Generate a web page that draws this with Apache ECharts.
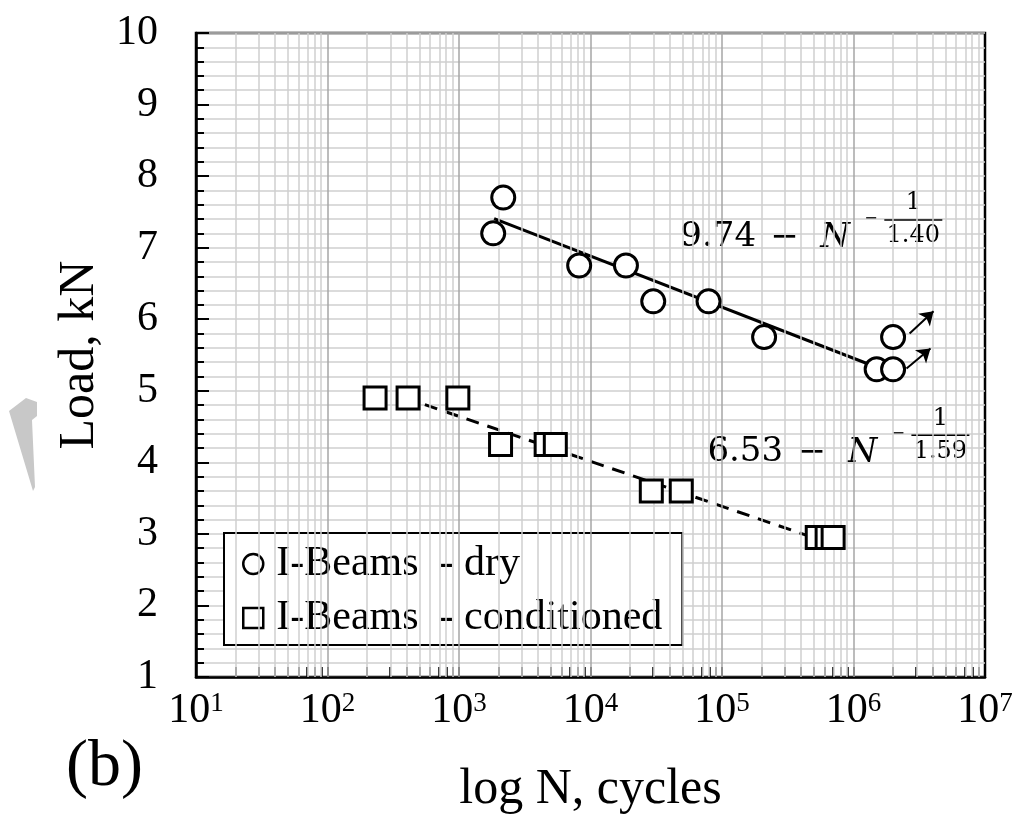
<!DOCTYPE html>
<html>
<head>
<meta charset="utf-8">
<script src="https://cdn.jsdelivr.net/npm/echarts@6/dist/echarts.min.js"></script>
<style>
  html, body { margin: 0; padding: 0; background: #ffffff; }
  #chart { width: 1022px; height: 823px; }
</style>
</head>
<body>
<div id="chart"></div>
<script>
// Fatigue tests of I-beams: load level vs. cycles to failure
const dryCycles = [1820, 2170, 8200, 18600, 30000, 79000, 209000, 1500000, 2000000, 2000000];
const dryLoad   = [7.2, 7.7, 6.75, 6.75, 6.25, 6.25, 5.75, 5.3, 5.3, 5.75];

const condCycles = [230, 410, 980, 2070, 4600, 5400, 29000, 49000, 530000, 630000, 700000];
const condLoad   = [4.9, 4.9, 4.9, 4.25, 4.25, 4.25, 3.6, 3.6, 2.95, 2.95, 2.95];

// Fit lines: load = intercept - log10(N) / divisor
const fitIntercept = [9.74, 6.53];
const fitDivisor   = [1.40, 1.59];
const fitDryRange  = [1850, 1450000];
const fitCondRange = [550, 650000];

// Run-outs (specimens that did not fail)
const runoutFromCycles = [2670000, 2530000];
const runoutFromLoad   = [5.80, 5.31];
const runoutToCycles   = [4060000, 3850000];
const runoutToLoad     = [6.11, 5.59];

const decadeExponents = [1, 2, 3, 4, 5, 6, 7];
const yTicks = [1, 2, 3, 4, 5, 6, 7, 8, 9, 10];

const seriesNames = ['I-Beams  - dry', 'I-Beams  - conditioned'];

const SERIF = '"Liberation Serif", "Times New Roman", serif';
const MATH = '"DejaVu Serif", serif';
const lg = Math.log10;

const dryPts  = dryCycles.map((n, i) => [lg(n), dryLoad[i]]);
const condPts = condCycles.map((n, i) => [lg(n), condLoad[i]]);
const fitLine = (range, k) => range.map(n => [lg(n), fitIntercept[k] - lg(n) / fitDivisor[k]]);

// log-decade grid positions (1..9 x 10^d)
const minorPos = [], decadePos = [];
decadeExponents.forEach(d => {
  decadePos.push(d);
  if (d < 7) for (let k = 2; k <= 9; k++) minorPos.push(d + lg(k));
});
const allTickPos = decadePos.concat(minorPos).sort((a, b) => a - b);

const chart = echarts.init(document.getElementById('chart'), null, { renderer: 'canvas' });

const option = {
  animation: false,
  backgroundColor: '#ffffff',
  grid: {
    left: 196, right: 37, top: 33, bottom: 146,
    show: true, borderColor: '#000', borderWidth: 2.5, backgroundColor: 'transparent'
  },
  xAxis: {
    type: 'value', min: 1, max: 7, interval: 1,
    name: 'log N, cycles', nameLocation: 'middle', nameGap: 88,
    nameTextStyle: { fontFamily: SERIF, fontSize: 50, color: '#000' },
    axisLine: { show: true, onZero: false, lineStyle: { color: '#000', width: 2.5 } },
    axisTick: { show: true, inside: true, length: 10, customValues: allTickPos,
                lineStyle: { color: '#000', width: 1.5 } },
    axisLabel: {
      margin: 13, color: '#000', fontFamily: SERIF,
      formatter: v => '{b|10}{s|' + v + '}',
      rich: {
        b: { fontFamily: SERIF, fontSize: 42, color: '#000' },
        s: { fontFamily: SERIF, fontSize: 27, color: '#000', verticalAlign: 'top', padding: [0, 0, 15, 0] }
      }
    },
    splitLine: { show: false }
  },
  yAxis: {
    type: 'value', min: 1, max: 10, interval: 1,
    name: 'Load, kN', nameLocation: 'middle', nameGap: 72, nameRotate: 90,
    nameTextStyle: { fontFamily: SERIF, fontSize: 50, color: '#000' },
    axisLine: { show: true, onZero: false, lineStyle: { color: '#000', width: 2.5 } },
    axisTick: { show: true, inside: true, length: 13, lineStyle: { color: '#000', width: 2 } },
    minorTick: { show: true, splitNumber: 5, length: 8, lineStyle: { color: '#000', width: 2 } },
    axisLabel: { margin: 38, color: '#000', fontFamily: SERIF, fontSize: 42,
                 customValues: yTicks },
    splitLine: { show: true, lineStyle: { color: '#cfcfcf', width: 1.5 } },
    minorSplitLine: { show: true, lineStyle: { color: '#cfcfcf', width: 1.5 } }
  },
  legend: {
    data: seriesNames,
    orient: 'vertical', left: 224, top: 533,
    backgroundColor: '#fff', borderColor: '#000', borderWidth: 2,
    padding: [10, 20, 6, 18], itemGap: 12,
    itemWidth: 20, itemHeight: 20,
    textStyle: { fontFamily: SERIF, fontSize: 42, color: '#000', padding: [0, 0, 0, 8] },
    itemStyle: { borderWidth: 2.5 }
  },
  series: [
    {
      // vertical grid lines of the logarithmic axis
      name: 'grid', type: 'line', data: [], z: 1, silent: true,
      markLine: {
        silent: true, symbol: ['none', 'none'], label: { show: false },
        animation: false,
        data: minorPos.map(x => ({ xAxis: x, lineStyle: { color: '#cfcfcf', width: 1.5, type: 'solid' } }))
          .concat(decadePos.slice(1, -1).map(x => ({ xAxis: x, lineStyle: { color: '#a6a6a6', width: 1.5, type: 'solid' } })))
      }
    },
    {
      name: 'fit dry', type: 'line', data: fitLine(fitDryRange, 0), z: 3,
      symbol: 'none', lineStyle: { color: '#000', width: 3 }, silent: true
    },
    {
      name: 'fit conditioned', type: 'line', data: fitLine(fitCondRange, 1), z: 3,
      symbol: 'none', lineStyle: { color: '#000', width: 3, type: [13, 9] }, silent: true
    },
    {
      name: 'run-outs', type: 'line', data: [], z: 4, silent: true,
      markLine: {
        silent: true, symbol: ['none', 'arrow'], symbolSize: 13, label: { show: false },
        lineStyle: { color: '#000', width: 2, type: 'solid' },
        data: runoutFromCycles.map((n, i) => [
          { coord: [lg(n), runoutFromLoad[i]] },
          { coord: [lg(runoutToCycles[i]), runoutToLoad[i]] }
        ])
      }
    },
    {
      name: seriesNames[0], type: 'scatter', data: dryPts, z: 6,
      symbol: 'circle', symbolSize: 23,
      itemStyle: { color: '#fff', borderColor: '#000', borderWidth: 3, opacity: 1 }
    },
    {
      name: seriesNames[1], type: 'scatter', data: condPts, z: 6,
      symbol: 'rect', symbolSize: 22,
      itemStyle: { color: '#fff', borderColor: '#000', borderWidth: 3, opacity: 1 }
    }
  ]
};

chart.setOption(option);

// Equation annotations, anchored in data space
function equation(anchor, lead, denom) {
  const p = chart.convertToPixel({ gridIndex: 0 }, anchor);
  const font = (size, italic) => ({
    fontFamily: MATH, fontSize: size, fill: '#000', fontStyle: italic ? 'italic' : 'normal'
  });
  const t = (x, y, text, size, align, italic) => ({
    type: 'text', x: x, y: y,
    style: Object.assign({ text: text, align: align, verticalAlign: 'middle' }, font(size, italic))
  });
  return {
    type: 'group', x: p[0], y: p[1], silent: true,
    children: [
      t(0, 0, lead, 34, 'left'),
      t(90, 1, '\u2212', 34, 'left'),
      t(140, 1, 'N', 34, 'left', true),
      t(184, -18, '\u2212', 16, 'left'),
      { type: 'line', shape: { x1: 204, y1: -17, x2: 262, y2: -17 }, style: { stroke: '#000', lineWidth: 1.5 } },
      t(233, -34, '1', 24, 'center'),
      t(233, -1, denom, 24, 'center')
    ]
  };
}

chart.setOption({
  graphic: [
    equation([4.683, 7.15], fitIntercept[0].toFixed(2), fitDivisor[0].toFixed(2)),
    equation([4.889, 4.14], fitIntercept[1].toFixed(2), fitDivisor[1].toFixed(2)),
    {
      type: 'text', left: 66, top: 735, silent: true,
      style: { text: '(b)', fontFamily: SERIF, fontSize: 66, fill: '#000' }
    },
    {
      // light grey mark at the left margin
      type: 'polygon', silent: true,
      shape: { points: [[9, 411], [26, 398], [37, 402], [37, 416], [32, 420], [35, 487], [33, 491]] },
      style: { fill: '#c8c8c8' }
    }
  ]
});
</script>
</body>
</html>
